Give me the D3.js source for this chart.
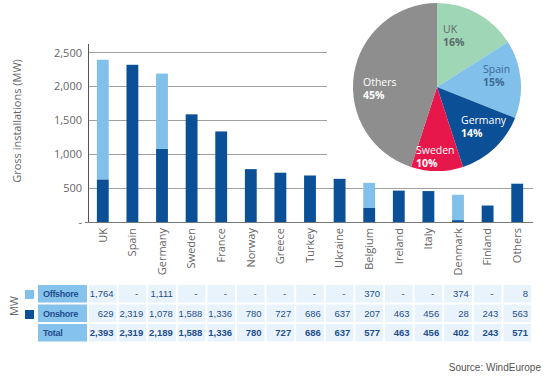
<!DOCTYPE html>
<html><head><meta charset="utf-8">
<script src="https://cdn.jsdelivr.net/npm/d3@7"></script>
<style>body{margin:0;background:#fff;}svg{display:block;}</style>
</head><body>
<svg id="c" width="553" height="380"></svg>
<script>
const categories = ["UK","Spain","Germany","Sweden","France","Norway","Greece","Turkey","Ukraine","Belgium","Ireland","Italy","Denmark","Finland","Others"];
const offshore = [1764,0,1111,0,0,0,0,0,0,370,0,0,374,0,8];
const onshore  = [629,2319,1078,1588,1336,780,727,686,637,207,463,456,28,243,563];
const totals   = [2393,2319,2189,1588,1336,780,727,686,637,577,463,456,402,243,571];
const yTicks = [0,500,1000,1500,2000,2500];
const pieLabels = ["UK","Spain","Germany","Sweden","Others"];
const pieShares = [16,15,14,10,45];
const pieColors = ["#9fd6b6","#80c0eb","#0b4f96","#e8174b","#8e8e8e"];
const pieTextColors = ["#5b6b6b","#3b6a95","#ffffff","#ffffff","#ffffff"];

const svg = d3.select("#c");
const cOff = "#80c0eb", cOn = "#0b4f96", txt = "#666";
const font = "'Open Sans', sans-serif";

const x = d3.scaleBand().domain(categories).range([88,532]).paddingInner(0.6).paddingOuter(0.3);
const y = d3.scaleLinear().domain([0,2500]).range([222,52.5]);

// gridlines
svg.append("g").selectAll("line").data(yTicks.slice(1)).join("line")
  .attr("x1",88).attr("x2",533).attr("y1",d=>y(d)).attr("y2",d=>y(d))
  .attr("stroke","#a0a0a0").attr("stroke-width",1).attr("shape-rendering","crispEdges");

// y axis
const yAxis = d3.axisLeft(y).tickValues(yTicks).tickSize(0).tickPadding(6)
  .tickFormat(d=> d===0 ? "-" : d3.format(",")(d));
const ga = svg.append("g").attr("transform","translate(88,0)").call(yAxis);
ga.select(".domain").remove();
ga.selectAll("text").attr("font-family",font).attr("font-size",11).attr("fill",txt);
svg.append("line").attr("x1",88).attr("x2",88).attr("y1",44).attr("y2",222)
  .attr("stroke","#555").attr("shape-rendering","crispEdges");
svg.append("line").attr("x1",85).attr("x2",533).attr("y1",222).attr("y2",222)
  .attr("stroke","#777").attr("shape-rendering","crispEdges");

svg.append("text").attr("transform","translate(21,121) rotate(-90)")
  .attr("text-anchor","middle").attr("font-family",font).attr("font-size",11).attr("fill",txt)
  .text("Gross installations (MW)");

// bars
const bars = svg.append("g");
bars.selectAll(".on").data(categories).join("rect")
  .attr("x",d=>x(d)).attr("width",x.bandwidth())
  .attr("y",(d,i)=>y(onshore[i])).attr("height",(d,i)=>y(0)-y(onshore[i])).attr("fill",cOn);
bars.selectAll(".off").data(categories).join("rect")
  .attr("x",d=>x(d)).attr("width",x.bandwidth())
  .attr("y",(d,i)=>y(onshore[i]+offshore[i])).attr("height",(d,i)=>y(onshore[i])-y(onshore[i]+offshore[i]))
  .attr("fill",cOff);

// category labels
const xAxis = d3.axisBottom(x).tickSize(0).tickPadding(0);
const gx = svg.append("g").attr("transform","translate(0,222)").call(xAxis);
gx.select(".domain").remove();
gx.selectAll("text").attr("font-family",font).attr("font-size",11).attr("fill",txt)
  .attr("transform","rotate(-90)").attr("text-anchor","end").attr("dy","0.35em").attr("x",-6).attr("y",0);

// pie backdrop + pie
svg.append("rect").attr("x",327).attr("y",0).attr("width",226).attr("height",172).attr("fill","#fff");
const pie = d3.pie().sort(null).value(d=>d)(pieShares);
const arc = d3.arc().innerRadius(0).outerRadius(84);
const pg = svg.append("g").attr("transform","translate(437,87)");
pg.selectAll("path").data(pie).join("path").attr("d",arc).attr("fill",(d,i)=>pieColors[i]);
const pieLabelPos = [[443,30],[483,70],[461,121],[416,151],[363,83]];
pieLabelPos.forEach((p,i)=>{
  svg.append("text").attr("x",p[0]).attr("y",p[1]+3).attr("font-family",font).attr("font-size",10.5)
    .attr("fill",pieTextColors[i]).text(pieLabels[i]);
  svg.append("text").attr("x",p[0]).attr("y",p[1]+15.5).attr("font-family",font).attr("font-size",10.5)
    .attr("font-weight",700).attr("fill",pieTextColors[i]).text(pieShares[i]+"%");
});

// table
const tfont = "'Liberation Sans', sans-serif";
const tColor = "#1f4e8c";
const rows = [
  {name:"Offshore", vals:offshore, bold:false, y:285},
  {name:"Onshore", vals:onshore, bold:false, y:304.5},
  {name:"Total", vals:totals, bold:true, y:324}
];
const rh = 17.5;
const step = x.step();
const x0 = 88;
rows.forEach(r=>{
  svg.append("rect").attr("x",38).attr("y",r.y).attr("width",49).attr("height",rh).attr("fill","#86c3ec");
  svg.append("text").attr("x",43).attr("y",r.y+rh/2+3.5).attr("font-family",tfont).attr("font-size",9)
    .attr("font-weight",700).attr("fill",tColor).attr("letter-spacing",-0.3).text(r.name);
  categories.forEach((c,i)=>{
    const cx = x0 + step*i + 1;
    svg.append("rect").attr("x",cx).attr("y",r.y).attr("width",step-2).attr("height",rh).attr("fill","#e9f3fc");
    const v = r.vals[i];
    svg.append("text").attr("x",cx+step-2-(v===0?8:3)).attr("y",r.y+rh/2+3.5)
      .attr("text-anchor","end").attr("font-family",tfont).attr("font-size",9.5)
      .attr("font-weight",r.bold?700:400).attr("fill",tColor)
      .text(v===0?"-":d3.format(",")(v));
  });
});
// legend squares
svg.append("rect").attr("x",25).attr("y",290).attr("width",9).attr("height",9).attr("fill",cOff);
svg.append("rect").attr("x",25).attr("y",310).attr("width",9).attr("height",9).attr("fill",cOn);
svg.append("text").attr("transform","translate(18,306) rotate(-90)").attr("text-anchor","middle")
  .attr("font-family",font).attr("font-size",11).attr("fill",txt).text("MW");

svg.append("text").attr("x",541).attr("y",371).attr("text-anchor","end")
  .attr("font-family",tfont).attr("font-size",10).attr("fill","#555").text("Source: WindEurope");
</script>
</body></html>
